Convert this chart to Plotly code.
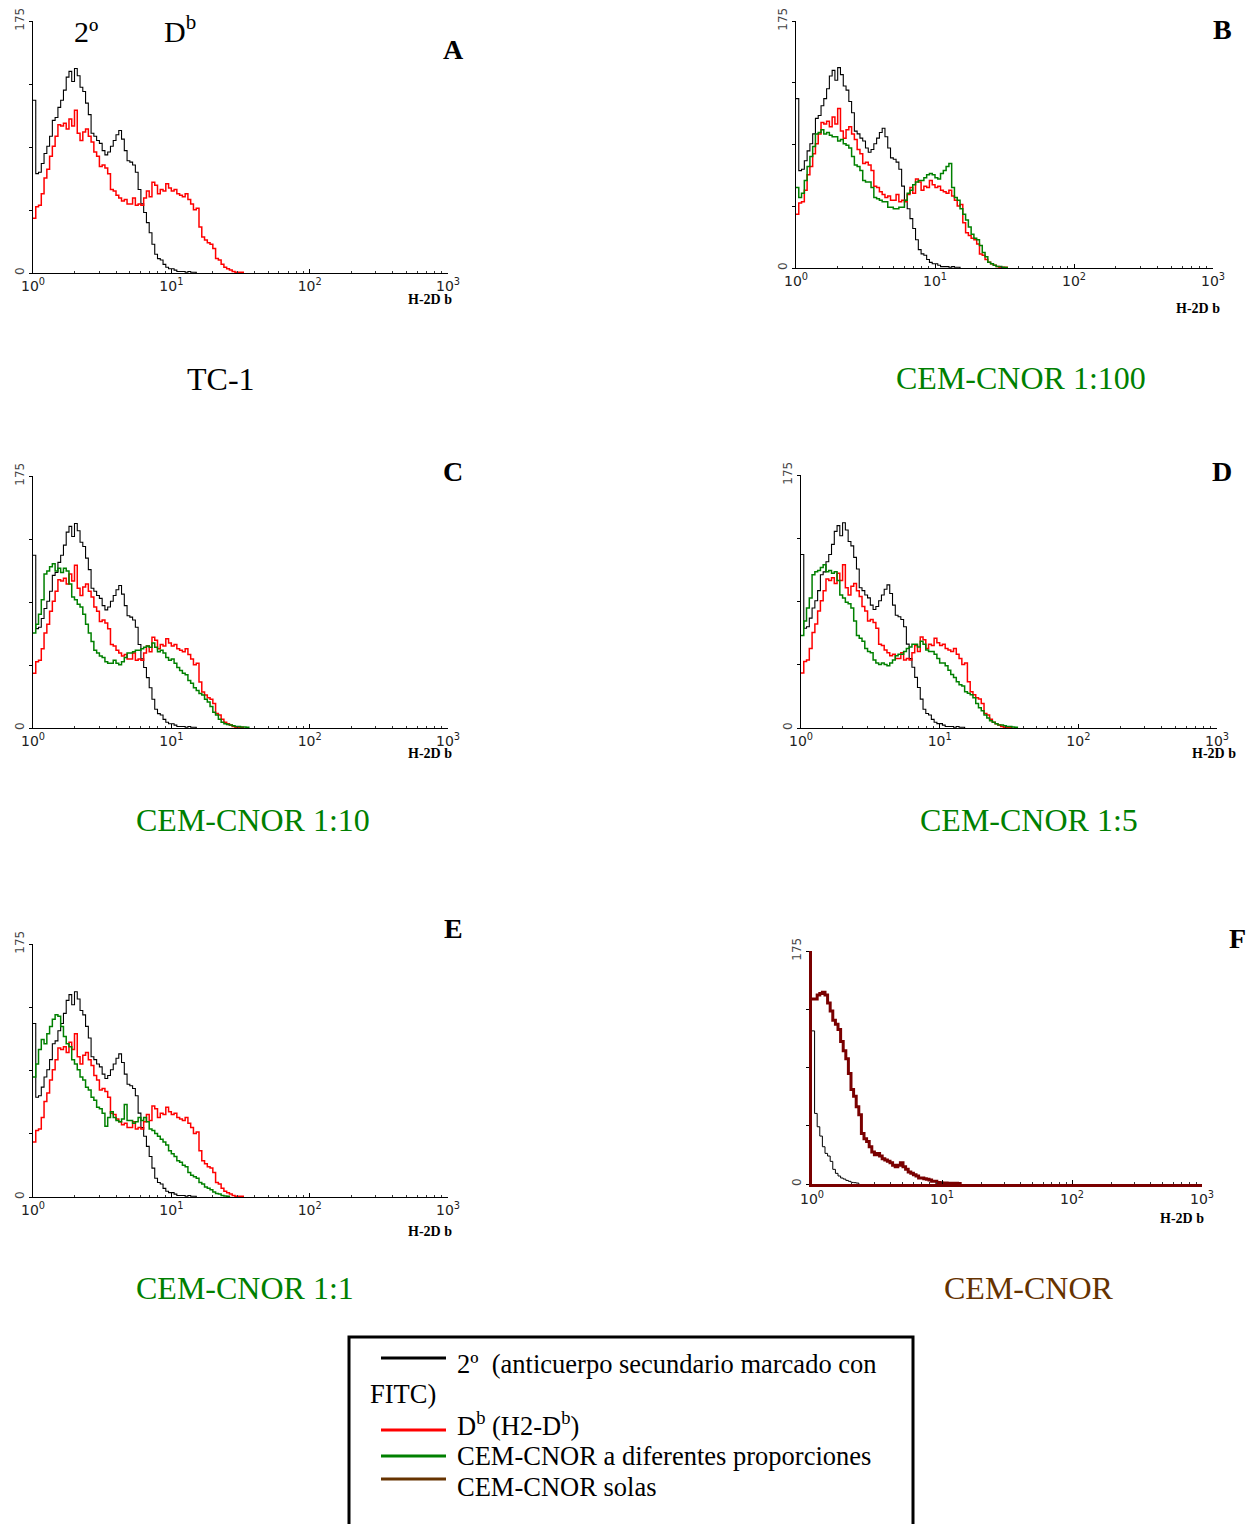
import plotly.graph_objects as go

# ---------------- DATA ----------------
# channel positions (fluorescence intensity, log scale), 0.02-decade bins
x_channels = [1.000, 1.047, 1.096, 1.148, 1.202, 1.259, 1.318, 1.380, 1.445, 1.514,
              1.585, 1.660, 1.738, 1.820, 1.905, 1.995, 2.089, 2.188, 2.291, 2.399,
              2.512, 2.630, 2.754, 2.884, 3.020, 3.162, 3.311, 3.467, 3.631, 3.802,
              3.981, 4.169, 4.365, 4.571, 4.786, 5.012, 5.248, 5.495, 5.754, 6.026,
              6.310, 6.607, 6.918, 7.244, 7.586, 7.943, 8.318, 8.710, 9.120, 9.550,
              10.00, 10.47, 10.96, 11.48, 12.02, 12.59, 13.18, 13.80, 14.45, 15.14,
              15.85, 16.60, 17.38, 18.20, 19.05, 19.95, 20.89, 21.88, 22.91, 23.99,
              25.12, 26.30, 27.54, 28.84, 30.20, 31.62, 33.11, 34.67, 36.31, 38.02,
              39.81]

# 2º (secondary antibody, FITC) - panels A-E
secundario = [120, 69, 70, 76, 83, 88, 95, 106, 108, 115,
              120, 127, 136, 140, 133, 142, 137, 129, 126, 118,
              110, 97, 95, 92, 90, 85, 82, 84, 88, 92,
              96, 99, 93, 85, 78, 77, 75, 70, 58, 48,
              42, 35, 28, 20, 13, 10, 9, 6, 4, 3,
              3, 2, 1, 1, 1, 0.5, 1, 0.5, 0.5, 0]

# Db (H2-Db) - panels A-E
db_h2 = [38, 46, 47, 55, 66, 72, 81, 88, 95, 103,
         102, 104, 100, 107, 102, 113, 97, 92, 98, 100,
         95, 91, 84, 81, 74, 75, 73, 69, 58, 57,
         54, 52, 50, 51, 48, 48, 52, 47, 48, 47,
         52, 57, 53, 63, 61, 55, 58, 57, 62, 59,
         57, 58, 55, 54, 53, 55, 51, 48, 44, 45,
         32, 25, 23, 21, 20, 17, 10, 9, 6, 4,
         3, 2, 1, 0.5, 0.5, 0.5, 0]

cem_1_100 = [57, 50, 53, 62, 72, 79, 86, 95, 96, 98,
             95, 96, 94, 93, 93, 90, 91, 88, 87, 85,
             79, 73, 72, 69, 62, 61, 61, 57, 50, 49,
             48, 47, 47, 43, 43, 42, 42, 43, 43, 48,
             53, 55, 59, 61, 62, 62, 64, 66, 67, 66,
             64, 63, 67, 69, 72, 74, 57, 50, 48, 42,
             38, 34, 29, 24, 21, 20, 16, 11, 8, 4,
             3, 2, 1, 1, 0.5, 0.3, 0]

cem_1_10 = [66, 72, 79, 89, 107, 109, 112, 114, 109, 111,
            108, 111, 109, 100, 91, 89, 86, 84, 79, 72,
            66, 60, 54, 52, 50, 49, 46, 45, 45, 47,
            45, 44, 46, 49, 52, 52, 53, 54, 54, 55,
            56, 57, 56, 59, 56, 53, 54, 52, 49, 47,
            48, 45, 42, 40, 38, 37, 33, 31, 28, 26,
            24, 23, 20, 18, 15, 11, 9, 6, 4, 3,
            2.5, 2, 1.5, 1, 1, 0.7, 0.7, 0.5, 0]

cem_1_5 = [64, 74, 83, 90, 106, 108, 109, 111, 113, 108,
           109, 107, 108, 102, 92, 90, 87, 86, 83, 74,
           64, 62, 60, 55, 53, 52, 47, 45, 44, 45,
           44, 43, 45, 47, 50, 51, 51, 53, 55, 56,
           58, 58, 56, 60, 58, 54, 53, 53, 51, 48,
           45, 45, 43, 40, 37, 35, 32, 30, 29, 25,
           24, 23, 21, 17, 14, 12, 9, 7, 5, 4,
           3, 2, 2, 1.5, 1, 1, 0.7, 0.5, 0]

cem_1_1 = [83, 92, 102, 109, 106, 113, 118, 123, 126, 125,
           118, 111, 106, 104, 95, 92, 88, 83, 81, 76,
           74, 69, 67, 62, 61, 58, 49, 55, 59, 55,
           53, 52, 54, 64, 53, 53, 51, 52, 55, 53,
           55, 52, 47, 46, 44, 42, 40, 38, 36, 32,
           30, 28, 25, 24, 22, 21, 17, 15, 14, 13,
           10, 9, 7, 6, 5, 3.5, 2.5, 2, 1, 0.7,
           0.5, 0]

cem_solas = [139, 139, 142, 143, 144, 142, 136, 130, 123, 120,
             116, 107, 100, 94, 83, 71, 66, 58, 52, 38,
             34, 32, 28, 24, 22, 23, 21, 19, 18, 17,
             16, 14, 13, 14, 16, 13, 11, 9, 8, 7,
             6, 4.5, 4.5, 4, 3.5, 3, 2, 2, 1.2, 1,
             0.8, 0.8, 0.5, 0.5, 0.3, 0.5, 0.3, 0]

secundario_f = [115, 53, 43, 36, 28, 23, 21, 17, 11, 8,
                6, 4.5, 3.7, 2.7, 2, 1.2, 1, 0.7, 0]

panel_letters = ["A", "B", "C", "D", "E", "F"]
captions = ["TC-1", "CEM-CNOR 1:100", "CEM-CNOR 1:10", "CEM-CNOR 1:5",
            "CEM-CNOR 1:1", "CEM-CNOR"]
x_tick_vals = [1, 10, 100, 1000]
x_tick_text = ["10<sup>0</sup>", "10<sup>1</sup>", "10<sup>2</sup>", "10<sup>3</sup>"]
y_max = 175

# ---------------- STYLE / LAYOUT ----------------
W, H = 1250, 1524
BLACK, RED, GREEN = "#000000", "#FF0000", "#008000"
DARKRED, BROWN = "#7A0000", "#663300"
SERIF = "Liberation Serif"

def px(x):
    return x / W

def py(y):
    return 1 - y / H

# panel boxes in pixels: left, right, top, bottom
boxes = [(33, 448, 21, 273), (796, 1213, 21, 268),
         (33, 448, 476, 728), (801, 1217, 475, 728),
         (33, 448, 944, 1197), (812, 1202, 951, 1184)]

green_series = [None, cem_1_100, cem_1_10, cem_1_5, cem_1_1, None]

minor_vals = [m * 10 ** e for e in range(3) for m in range(2, 10)]

fig = go.Figure()
layout = dict(width=W, height=H, autosize=False, margin=dict(l=0, r=0, t=0, b=0, pad=0),
              paper_bgcolor="white", plot_bgcolor="white", showlegend=False)

for i, (l, r, t, b) in enumerate(boxes):
    n = "" if i == 0 else str(i + 1)
    xa, ya = "x" + n, "y" + n
    is_f = (i == 5)
    axcol = DARKRED if is_f else BLACK
    axw = 3 if is_f else 1
    layout["xaxis" + n] = dict(
        domain=[px(l), px(r)], anchor=ya, type="log", range=[0, 3], automargin=False,
        tickvals=x_tick_vals, ticktext=x_tick_text, ticks="inside", ticklen=4,
        tickcolor="black", showline=True, linecolor=axcol, linewidth=axw,
        showgrid=False, zeroline=False,
        tickfont=dict(family="DejaVu Sans", size=14, color="#222"),
        minor=dict(tickvals=minor_vals, ticks="inside", ticklen=2, tickcolor="#333",
                   showgrid=False))
    layout["yaxis" + n] = dict(
        domain=[py(b), py(t)], anchor=xa, range=[0, y_max], automargin=False,
        tickvals=[0, 43.75, 87.5, 131.25, 175], ticktext=["0", "", "", "", "175"],
        ticks="outside", ticklen=3, tickcolor="black", tickangle=-90,
        showline=True, linecolor=axcol, linewidth=axw, showgrid=False, zeroline=False,
        tickfont=dict(family="DejaVu Sans", size=12, color="#444"))

    if is_f:
        fig.add_trace(go.Scatter(x=x_channels[:len(secundario_f)], y=secundario_f,
                                 mode="lines", line=dict(color=BLACK, width=1, shape="hv"),
                                 xaxis=xa, yaxis=ya))
        fig.add_trace(go.Scatter(x=x_channels[:len(cem_solas)], y=cem_solas,
                                 mode="lines", line=dict(color=DARKRED, width=3, shape="hv"),
                                 xaxis=xa, yaxis=ya))
    else:
        fig.add_trace(go.Scatter(x=x_channels[:len(secundario)], y=secundario,
                                 mode="lines", line=dict(color=BLACK, width=1.1, shape="hv"),
                                 xaxis=xa, yaxis=ya))
        fig.add_trace(go.Scatter(x=x_channels[:len(db_h2)], y=db_h2,
                                 mode="lines", line=dict(color=RED, width=1.5, shape="hv"),
                                 xaxis=xa, yaxis=ya))
        g = green_series[i]
        if g is not None:
            fig.add_trace(go.Scatter(x=x_channels[:len(g)], y=g,
                                     mode="lines", line=dict(color=GREEN, width=1.5, shape="hv"),
                                     xaxis=xa, yaxis=ya))

fig.update_layout(**layout)

ann = []

def text(x, y, s, size, color="black", bold=False, xanchor="center", family=SERIF):
    if bold:
        s = "<b>" + s + "</b>"
    ann.append(dict(x=px(x), y=py(y), xref="paper", yref="paper", text=s,
                    showarrow=False, xanchor=xanchor, yanchor="middle",
                    font=dict(family=family, size=size, color=color)))

# panel letters
letter_pos = [(453, 50), (1222, 29), (453, 472), (1222, 472), (453, 928), (1237, 938)]
for s, (x, y) in zip(panel_letters, letter_pos):
    text(x, y, s, 28, bold=True)

# axis titles
h2_pos = [(430, 299), (1198, 308), (430, 753), (1214, 753), (430, 1231), (1182, 1218)]
for (x, y) in h2_pos:
    text(x, y, "H-2D b", 14, bold=True)

# captions
cap_pos = [(221, 379), (1021, 378), (253, 820), (1029, 820), (245, 1288), (1029, 1288)]
cap_col = [BLACK, GREEN, GREEN, GREEN, GREEN, BROWN]
for s, (x, y), c in zip(captions, cap_pos, cap_col):
    text(x, y, s, 32, color=c)

# labels in panel A
text(86, 31, "2º", 30)
text(180, 29, "D<sup>b</sup>", 30)

# legend box
shapes = [dict(type="rect", xref="paper", yref="paper",
               x0=px(349), x1=px(913), y0=py(1535), y1=py(1337),
               line=dict(color="black", width=3), fillcolor="rgba(0,0,0,0)")]
for yy, c in [(1358, BLACK), (1430, RED), (1456, GREEN), (1479, BROWN)]:
    shapes.append(dict(type="line", xref="paper", yref="paper",
                       x0=px(381), x1=px(446), y0=py(yy), y1=py(yy),
                       line=dict(color=c, width=3)))

text(455, 1364, "2º  (anticuerpo secundario marcado con", 26.5, xanchor="left")
text(368, 1394, "FITC)", 26.5, xanchor="left")
text(455, 1424, "D<sup>b</sup> (H2-D<sup>b</sup>)", 26.5, xanchor="left")
text(455, 1456, "CEM-CNOR a diferentes proporciones", 26.5, xanchor="left")
text(455, 1487, "CEM-CNOR solas", 26.5, xanchor="left")

fig.update_layout(annotations=ann, shapes=shapes)
fig.write_html("out.html", config={"responsive": False},
               post_script="document.body.style.margin='0';"
                           "document.body.style.overflow='hidden';")
